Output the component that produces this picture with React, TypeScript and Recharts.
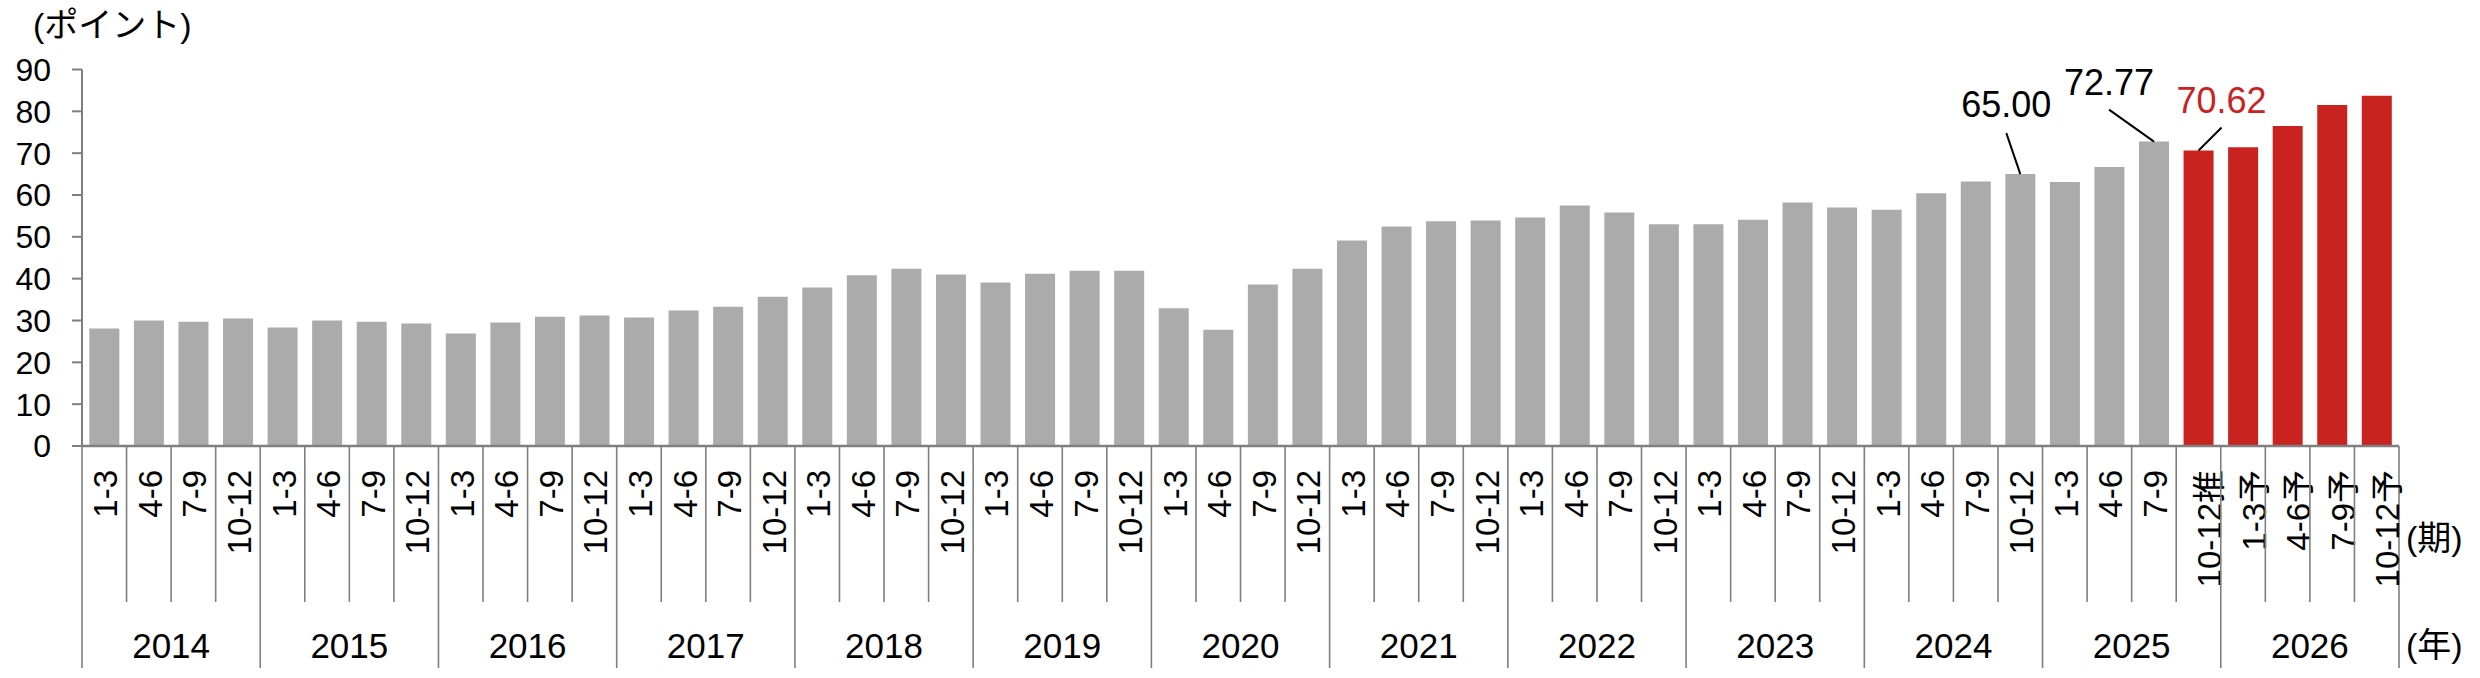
import { BarChart, Bar, XAxis, YAxis, Cell, LabelList } from "recharts";

const FONT = "'Liberation Sans', Arial, 'Noto Sans CJK JP', sans-serif";
const GRAY = "#ababab";
const RED = "#c9231f";
const AXIS = "#7f7f7f";

const W = 2480;
const H = 678;
const LEFT = 82;
const RIGHT = 81;
const TOP = 69.5;
const X_AXIS_H = 232;
const PLOT_W = W - LEFT - RIGHT;

const years = [
  "2014", "2015", "2016", "2017", "2018", "2019", "2020",
  "2021", "2022", "2023", "2024", "2025", "2026",
];

const quarterLabels = [
  "1-3", "4-6", "7-9", "10-12", // 2014
  "1-3", "4-6", "7-9", "10-12", // 2015
  "1-3", "4-6", "7-9", "10-12", // 2016
  "1-3", "4-6", "7-9", "10-12", // 2017
  "1-3", "4-6", "7-9", "10-12", // 2018
  "1-3", "4-6", "7-9", "10-12", // 2019
  "1-3", "4-6", "7-9", "10-12", // 2020
  "1-3", "4-6", "7-9", "10-12", // 2021
  "1-3", "4-6", "7-9", "10-12", // 2022
  "1-3", "4-6", "7-9", "10-12", // 2023
  "1-3", "4-6", "7-9", "10-12", // 2024
  "1-3", "4-6", "7-9", "10-12推", // 2025
  "1-3予", "4-6予", "7-9予", "10-12予", // 2026
];

const values = [
  28.1, 30.0, 29.7, 30.5,
  28.3, 30.0, 29.7, 29.3,
  26.9, 29.5, 30.9, 31.2,
  30.7, 32.4, 33.3, 35.7,
  37.9, 40.8, 42.4, 41.0,
  39.1, 41.2, 41.9, 41.9,
  32.9, 27.8, 38.6, 42.4,
  49.1, 52.5, 53.7, 53.9,
  54.6, 57.5, 55.8, 53.0,
  53.0, 54.1, 58.2, 57.0,
  56.5, 60.4, 63.2, 65.0,
  63.1, 66.7, 72.77, 70.62,
  71.4, 76.5, 81.5, 83.7,
];

const yTicks = [0, 10, 20, 30, 40, 50, 60, 70, 80, 90];

// first estimate / forecast bar (red from here on)
const FORECAST_FROM = 47;

const data = quarterLabels.map((q, i) => ({ q, v: values[i] }));

// callout leader + text offsets from the bar top centre
const callouts: Record<number, { lx: number; ly: number; tx: number; ty: number }> = {
  43: { lx: -14, ly: -41, tx: -14, ty: -57 },
  46: { lx: -45, ly: -32, tx: -45, ty: -46.5 },
  47: { lx: 23, ly: -23, tx: 23, ty: -38 },
};

function QuarterTick(props: any) {
  const { x, y, payload, index } = props;
  const bw = PLOT_W / values.length;
  const left = x - bw / 2;
  const yearStart = index % 4 === 0;
  const last = index === values.length - 1;
  const label = String(payload.value);
  const cjk = /[推予]/.test(label);
  return (
    <g>
      <line
        x1={left}
        x2={left}
        y1={y}
        y2={yearStart ? y + 222 : y + 156}
        stroke={AXIS}
        strokeWidth={1.6}
      />
      {last && (
        <line x1={x + bw / 2} x2={x + bw / 2} y1={y} y2={y + 222} stroke={AXIS} strokeWidth={1.6} />
      )}
      <text
        transform={`translate(${x + (cjk ? 11 : 1.5)},${y + 24}) rotate(-90)`}
        textAnchor="end"
        dominantBaseline="central"
        fontSize={33}
        fontFamily={FONT}
        fill="#000"
      >
        {label}
      </text>
      {index % 4 === 1 && (
        <text
          x={x + bw / 2}
          y={y + 199}
          textAnchor="middle"
          dominantBaseline="central"
          fontSize={35}
          fontFamily={FONT}
          fill="#000"
        >
          {years[Math.floor(index / 4)]}
        </text>
      )}
    </g>
  );
}

function Callout(props: any) {
  const { x, y, width, index, value } = props;
  const o = callouts[index];
  if (!o) return null;
  const cx = x + width / 2;
  return (
    <g>
      <line x1={cx} y1={y} x2={cx + o.lx} y2={y + o.ly} stroke="#000" strokeWidth={2} />
      <text
        x={cx + o.tx}
        y={y + o.ty}
        textAnchor="middle"
        fontSize={36}
        fontFamily={FONT}
        fill={index >= FORECAST_FROM ? RED : "#000"}
      >
        {Number(value).toFixed(2)}
      </text>
    </g>
  );
}

export default function App() {
  return (
    <div style={{ position: "relative", width: W, height: H, background: "#fff", fontFamily: FONT }}>
      <style>{`body{margin:0}`}</style>
      <BarChart
        width={W}
        height={H}
        data={data}
        margin={{ top: TOP, right: RIGHT, bottom: 0, left: 0 }}
        barCategoryGap="16.5%"
      >
        <YAxis
          width={LEFT}
          domain={[0, 90]}
          ticks={yTicks}
          interval={0}
          axisLine={{ stroke: AXIS, strokeWidth: 2 }}
          tickLine={{ stroke: AXIS, strokeWidth: 2 }}
          tickSize={10}
          tickMargin={21}
          tick={{ fontSize: 32, fill: "#000", fontFamily: FONT }}
        />
        <XAxis
          dataKey="q"
          interval={0}
          height={X_AXIS_H}
          axisLine={{ stroke: AXIS, strokeWidth: 2.5 }}
          tickLine={false}
          tickSize={0}
          tickMargin={0}
          tick={<QuarterTick />}
        />
        <Bar dataKey="v" isAnimationActive={false}>
          {data.map((_, i) => (
            <Cell key={i} fill={i >= FORECAST_FROM ? RED : GRAY} />
          ))}
          <LabelList dataKey="v" content={<Callout />} />
        </Bar>
      </BarChart>
      <div style={{ position: "absolute", left: 33, top: 5, fontSize: 34, lineHeight: "40px", color: "#000" }}>
        (ポイント)
      </div>
      <div style={{ position: "absolute", left: 2406, top: 518, fontSize: 34, lineHeight: "40px", color: "#000" }}>
        (期)
      </div>
      <div style={{ position: "absolute", left: 2406, top: 625, fontSize: 34, lineHeight: "40px", color: "#000" }}>
        (年)
      </div>
    </div>
  );
}
